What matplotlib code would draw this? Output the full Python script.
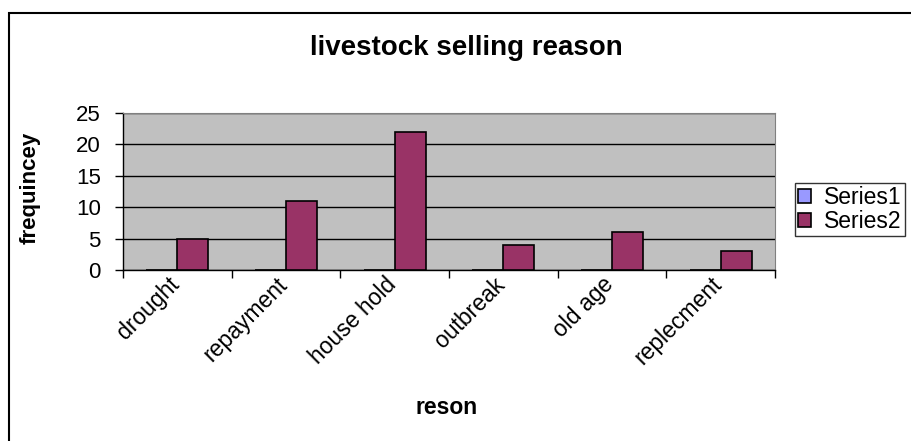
import numpy as np
import matplotlib.pyplot as plt
from matplotlib.patches import Rectangle
from matplotlib.transforms import ScaledTranslation

plt.rcParams['font.family'] = ['Liberation Sans', 'DejaVu Sans']

# data
reasons = ["drought", "repayment", "house hold", "outbreak", "old age", "replecment"]
series1 = [0, 0, 0, 0, 0, 0]
series2 = [5, 11, 22, 4, 6, 3]

fig = plt.figure(figsize=(9.11, 4.41), dpi=100)
ax = fig.add_axes([123 / 911, 1 - 270 / 441, 652 / 911, 157 / 441])
ax.set_facecolor("#c0c0c0")

x = np.arange(len(reasons))
w = 1 / 3.5
ax.bar(x - w / 2, series1, w, color="#9999ff", edgecolor="black", linewidth=1.2, label="Series1", zorder=3)
ax.bar(x + w / 2, series2, w, color="#993366", edgecolor="black", linewidth=1.2, label="Series2", zorder=3)

ax.set_xlim(-0.5, len(reasons) - 0.5)
ax.set_ylim(0, 25)
ax.set_yticks([0, 5, 10, 15, 20, 25])
ax.yaxis.grid(True, color="black", linewidth=1)
ax.set_axisbelow(True)
ax.tick_params(axis="y", labelsize=16, length=6, direction="out", width=1, pad=10)

# category boundary ticks, labels at centers
ax.set_xticks(np.arange(-0.5, len(reasons)), minor=False)
ax.set_xticklabels([])
ax.set_xticks(x, minor=True)
ax.set_xticklabels(reasons, minor=True, rotation=45, ha="right", va="top",
                   rotation_mode="anchor", fontsize=16.5)
ax.tick_params(axis="x", which="major", length=6, width=1)
ax.tick_params(axis="x", which="minor", length=0, pad=2)
shift = ScaledTranslation(-10 / 100, 0, fig.dpi_scale_trans)
for lab in ax.get_xticklabels(minor=True):
    lab.set_transform(lab.get_transform() + shift)

ax.spines["top"].set_color("#808080")
ax.spines["right"].set_color("#808080")
ax.spines["left"].set_linewidth(1)
ax.spines["bottom"].set_linewidth(1)

fig.text(466 / 911, 1 - 48 / 441, "livestock selling reason", ha="center", va="center",
         fontsize=20, fontweight="bold")
fig.text(447 / 911, 1 - 407 / 441, "reson", ha="center", va="center",
         fontsize=16.5, fontweight="bold")
fig.text(30 / 911, 1 - 188 / 441, "frequincey", ha="center", va="center",
         rotation=90, fontsize=16, fontweight="bold")

leg = fig.legend(loc="upper left", bbox_to_anchor=(795 / 911, 1 - 183 / 441),
                 fontsize=16.5, frameon=True, fancybox=False, edgecolor="black",
                 handlelength=0.55, handleheight=0.55, handletextpad=0.55,
                 borderpad=0.15, labelspacing=0.02, borderaxespad=0)
leg.get_frame().set_linewidth(1)

# chart border
fig.patches.append(Rectangle((8.5 / 911, -0.1), 1.2, 1.1 - 13.5 / 441,
                             transform=fig.transFigure, fill=False,
                             edgecolor="black", linewidth=1.5))

fig.savefig("out.png", dpi=100)
